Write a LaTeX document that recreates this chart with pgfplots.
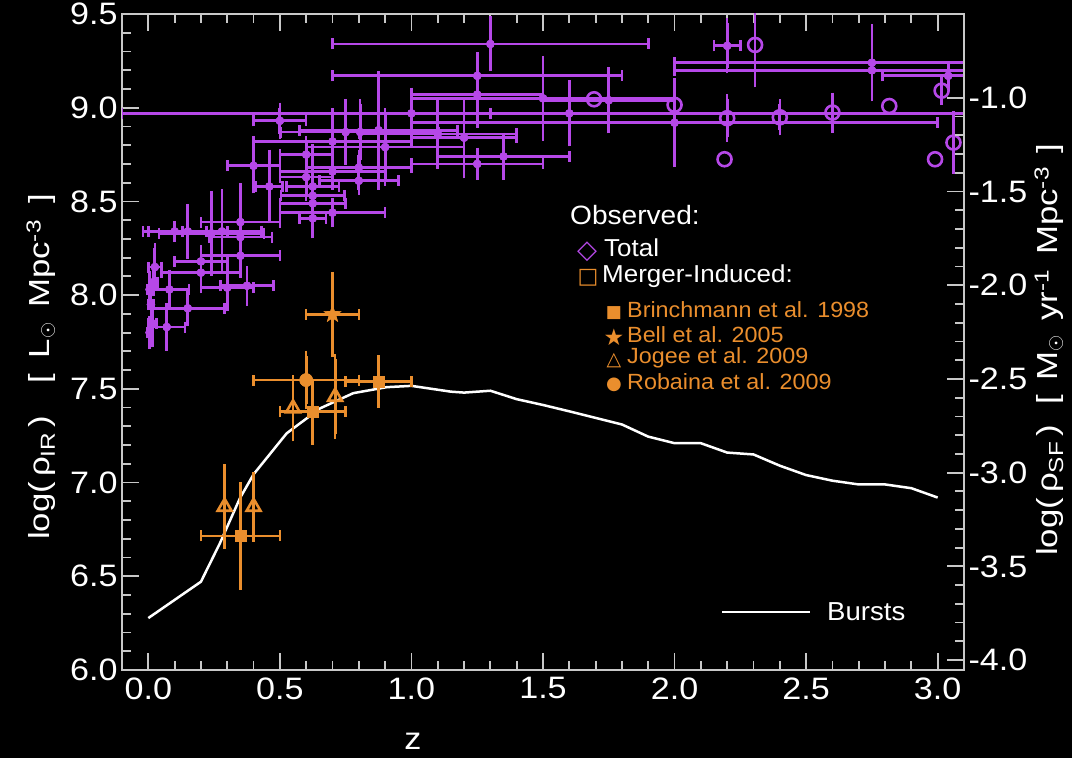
\documentclass[border=0pt]{standalone}
\usepackage{pgfplots}
\pgfplotsset{compat=1.18}
\usepackage{pgfplotstable}
\usepackage{fontspec}
\setmainfont{Liberation Sans}
\newfontfamily\dejavu{DejaVu Sans}
\newfontfamily\legfont[FakeStretch=1.06]{Liberation Sans}
\newfontfamily\labfont[FakeStretch=1.2]{Liberation Sans}
\newfontfamily\tickfont[FakeStretch=1.1]{Liberation Sans}
\definecolor{pur}{RGB}{182,72,232}
\definecolor{org}{RGB}{234,142,45}
\definecolor{axgray}{RGB}{200,200,200}

\pgfdeclareplotmark{fstar}{%
  \pgfpathmoveto{\pgfqpoint{0pt}{\pgfplotmarksize}}%
  \pgfpathlineto{\pgfqpoint{0.235\pgfplotmarksize}{0.324\pgfplotmarksize}}%
  \pgfpathlineto{\pgfqpoint{0.951\pgfplotmarksize}{0.309\pgfplotmarksize}}%
  \pgfpathlineto{\pgfqpoint{0.380\pgfplotmarksize}{-0.124\pgfplotmarksize}}%
  \pgfpathlineto{\pgfqpoint{0.588\pgfplotmarksize}{-0.809\pgfplotmarksize}}%
  \pgfpathlineto{\pgfqpoint{0pt}{-0.4\pgfplotmarksize}}%
  \pgfpathlineto{\pgfqpoint{-0.588\pgfplotmarksize}{-0.809\pgfplotmarksize}}%
  \pgfpathlineto{\pgfqpoint{-0.380\pgfplotmarksize}{-0.124\pgfplotmarksize}}%
  \pgfpathlineto{\pgfqpoint{-0.951\pgfplotmarksize}{0.309\pgfplotmarksize}}%
  \pgfpathlineto{\pgfqpoint{-0.235\pgfplotmarksize}{0.324\pgfplotmarksize}}%
  \pgfpathclose\pgfusepathqfill}

% Observed total: z, log rho_IR, x error, y error
\pgfplotstableread{
z y ex ey
0.005 7.80 0.010 0.06
0.015 7.85 0.015 0.10
0.010 7.95 0.010 0.08
0.005 8.03 0.010 0.07
0.020 8.07 0.015 0.05
0.025 8.15 0.025 0.10
0.070 7.83 0.070 0.10
0.080 8.03 0.075 0.08
0.150 7.93 0.140 0.07
0.100 8.34 0.120 0.03
0.150 8.34 0.150 0.12
0.200 8.18 0.100 0.06
0.200 8.12 0.150 0.05
0.240 8.33 0.200 0.20
0.280 8.34 0.150 0.20
0.350 8.39 0.150 0.18
0.350 8.31 0.120 0.10
0.350 8.21 0.150 0.07
0.300 8.04 0.100 0.10
0.375 8.05 0.100 0.08
0.500 8.93 0.100 0.07
0.400 8.69 0.100 0.12
0.460 8.58 0.050 0.17
0.600 8.75 0.100 0.07
0.600 8.63 0.100 0.10
0.625 8.58 0.100 0.20
0.625 8.53 0.120 0.05
0.625 8.49 0.125 0.05
0.625 8.41 0.050 0.08
0.700 8.44 0.200 0.05
0.700 8.82 0.300 0.10
0.700 8.66 0.200 0.07
0.800 8.68 0.200 0.07
0.800 8.61 0.150 0.05
0.750 8.87 0.250 0.15
0.805 8.87 0.300 0.15
0.875 8.88 0.300 0.29
0.900 8.79 0.300 0.18
1.000 8.97 0.300 0.11
1.100 8.86 0.300 0.16
1.200 8.84 0.200 0.19
1.250 8.70 0.250 0.06
1.350 8.74 0.250 0.10
1.250 9.17 0.550 0.10
1.250 9.07 0.250 0.15
1.300 9.34 0.600 0.12
1.500 9.05 0.500 0.20
1.600 8.97 1.700 0.15
1.750 9.04 0.250 0.15
2.000 8.92 1.000 0.21
2.200 9.33 0.050 0.12
2.750 9.24 0.750 0.18
2.750 9.20 0.750 0.05
3.040 9.17 0.250 0.05
}\totaldata

% Observed total, open circles with y errors
\pgfplotstableread{
z y ey
2.000 9.015 0.10
2.200 8.944 0.10
2.306 9.335 0.20
2.400 8.949 0.07
2.600 8.974 0.08
3.015 9.091 0.05
3.060 8.814 0.14
}\circerr

% Observed total, open circles without errors
\pgfplotstableread{
z y
1.694 9.045
2.190 8.725
2.816 9.009
2.990 8.725
}\circnoerr

% Merger-induced
\pgfplotstableread{
z y ex ey
0.350 6.715 0.150 0.26
0.625 7.378 0.125 0.15
0.875 7.538 0.125 0.114
}\brinch
\pgfplotstableread{
z y ex ey
0.700 7.898 0.100 0.20
}\bell
\pgfplotstableread{
z y ey
0.290 6.871 0.20
0.400 6.871 0.16
0.550 7.396 0.15
0.710 7.458 0.20
}\jogee
\pgfplotstableread{
z y ex ey
0.600 7.547 0.200 0.13
}\robaina

% Bursts model
\pgfplotstableread{
z y
0.000 6.277
0.200 6.471
0.272 6.676
0.348 6.916
0.400 7.044
0.526 7.263
0.653 7.396
0.779 7.477
0.906 7.509
1.000 7.516
1.150 7.485
1.200 7.480
1.300 7.490
1.400 7.445
1.500 7.414
1.600 7.380
1.700 7.345
1.800 7.310
1.900 7.245
2.000 7.210
2.100 7.210
2.200 7.160
2.300 7.150
2.400 7.090
2.500 7.040
2.600 7.010
2.700 6.990
2.800 6.990
2.900 6.970
3.000 6.920
}\bursts

\pgfplotsset{
  /pgfplots/error bars/errpy/.style={y dir=both, y explicit, error mark=-,
    error bar style={pur, line width=2.8pt},
    error mark options={pur, line width=2.6pt, mark size=5pt}},
  /pgfplots/error bars/errpx/.style={x dir=both, x explicit, error mark=|,
    error bar style={pur, line width=2.8pt},
    error mark options={pur, line width=2.6pt, mark size=5.5pt}},
  /pgfplots/error bars/erroy/.style={y dir=both, y explicit, error mark=-,
    error bar style={org, line width=2.8pt},
    error mark options={org, line width=2.6pt, mark size=5pt}},
  /pgfplots/error bars/errox/.style={x dir=both, x explicit, error mark=|,
    error bar style={org, line width=2.8pt},
    error mark options={org, line width=2.6pt, mark size=5.5pt}},
  ticklab/.style={font=\tickfont\fontsize{31}{31}\selectfont, text=white,
    /pgf/number format/assume math mode=true,
    /pgf/number format/fixed, /pgf/number format/fixed zerofill,
    /pgf/number format/precision=1},
}

\begin{document}
\begin{tikzpicture}
\fill[black] (0pt,0pt) rectangle (1072pt,758pt);
\begin{axis}[
  at={(122pt,88pt)}, anchor=south west,
  width=842pt, height=656pt, scale only axis,
  xmin=-0.1, xmax=3.1, ymin=6, ymax=9.5,
  axis line style={axgray, line width=2pt},
  every tick/.style={axgray, line width=1.8pt},
  tick align=inside,
  xtick={0,0.5,1,1.5,2,2.5,3},
  ytick={6,6.5,7,7.5,8,8.5,9,9.5},
  minor x tick num=4, minor y tick num=4,
  major tick length=17pt, minor tick length=9pt,
  xtick pos=both, ytick pos=left, xticklabel pos=lower,
  tick label style={ticklab},
  xticklabel style={yshift=-4pt},
  yticklabel style={xshift=-1pt},
]
% observed total: x bars, then y bars with markers
\addplot[pur, only marks, mark=*, mark size=4pt,
  error bars/.cd, errpx]
  table[x=z, y=y, x error=ex] {\totaldata};
\addplot[pur, only marks, mark=*, mark size=4pt,
  error bars/.cd, errpy]
  table[x=z, y=y, y error=ey] {\totaldata};
\addplot[pur, only marks, mark=o, mark size=7pt, mark options={line width=2.6pt},
  error bars/.cd, errpy]
  table[x=z, y=y, y error=ey] {\circerr};
\addplot[pur, only marks, mark=o, mark size=7pt, mark options={line width=2.6pt}]
  table[x=z, y=y] {\circnoerr};
\addplot[white, line width=2.5pt] table[x=z, y=y] {\bursts};
% merger-induced
\addplot[org, only marks, mark=square*, mark size=5.5pt,
  error bars/.cd, errox]
  table[x=z, y=y, x error=ex] {\brinch};
\addplot[org, only marks, mark=square*, mark size=5.5pt,
  error bars/.cd, erroy]
  table[x=z, y=y, y error=ey] {\brinch};
\addplot[org, only marks, mark=fstar, mark size=9.5pt,
  error bars/.cd, errox]
  table[x=z, y=y, x error=ex] {\bell};
\addplot[org, only marks, mark=fstar, mark size=9.5pt,
  error bars/.cd, erroy]
  table[x=z, y=y, y error=ey] {\bell};
\addplot[org, only marks, mark=triangle, mark size=8pt, mark options={line width=2.6pt},
  error bars/.cd, erroy]
  table[x=z, y=y, y error=ey] {\jogee};
\addplot[org, only marks, mark=*, mark size=6.5pt,
  error bars/.cd, errox]
  table[x=z, y=y, x error=ex] {\robaina};
\addplot[org, only marks, mark=*, mark size=6.5pt,
  error bars/.cd, erroy]
  table[x=z, y=y, y error=ey] {\robaina};
\end{axis}
\begin{axis}[
  at={(122pt,88pt)}, anchor=south west,
  width=842pt, height=656pt, scale only axis,
  xmin=-0.1, xmax=3.1, ymin=-4.053, ymax=-0.553,
  axis x line=none, axis y line*=right,
  axis line style={axgray, line width=2pt, -},
  every tick/.style={axgray, line width=1.8pt},
  tick align=inside,
  ytick={-4,-3.5,-3,-2.5,-2,-1.5,-1},
  minor y tick num=4,
  major tick length=17pt, minor tick length=9pt,
  tick label style={ticklab},
  yticklabel style={xshift=1pt},
]
\addplot[draw=none] coordinates {(0,-2)};
\end{axis}
% axis titles
\node[rotate=90, text=white, font=\labfont\fontsize{29}{29}\selectfont] at (41pt,391pt)
  {log(\,ρ\textsubscript{IR}\,)\hspace{1.1em}[\hspace{0.55em}L$_\odot$\hspace{0.5em}Mpc\textsuperscript{-3}\hspace{0.55em}]};
\node[rotate=90, text=white, font=\labfont\fontsize{29}{29}\selectfont] at (1049pt,408pt)
  {log(\,ρ\textsubscript{SF}\,)\hspace{0.7em}[\hspace{0.5em}M$_\odot$\hspace{0.5em}yr\textsuperscript{-1}\hspace{0.5em}Mpc\textsuperscript{-3}\hspace{0.45em}]};
\node[text=white, font=\tickfont\fontsize{31}{31}\selectfont] at (413pt,17pt) {z};
% legend
\node[anchor=west, text=white, font=\legfont\fontsize{26.5}{26.5}\selectfont, inner sep=0pt] at (570pt,543pt) {Observed:};
\node[text=pur, font=\dejavu\bfseries\fontsize{26}{26}\selectfont, inner sep=0pt] at (587pt,506pt) {◇};
\node[anchor=west, text=white, font=\legfont\fontsize{24.5}{24.5}\selectfont, inner sep=0pt] at (604pt,510pt) {Total};
\node[text=org, font=\dejavu\bfseries\fontsize{22}{22}\selectfont, inner sep=0pt] at (588pt,480pt) {□};
\node[anchor=west, text=white, font=\legfont\fontsize{24.5}{24.5}\selectfont, inner sep=0pt] at (602pt,482pt) {Merger-Induced:};
\node[text=org, font=\dejavu\fontsize{17}{17}\selectfont, inner sep=0pt] at (614pt,445pt) {■};
\node[anchor=west, text=org, font=\legfont\fontsize{22}{22}\selectfont, inner sep=0pt] at (627pt,448pt) {Brinchmann et al. 1998};
\node[text=org, font=\dejavu\fontsize{23}{23}\selectfont, inner sep=0pt] at (614pt,421pt) {★};
\node[anchor=west, text=org, font=\legfont\fontsize{22}{22}\selectfont, inner sep=0pt] at (627pt,423pt) {Bell et al. 2005};
\node[text=org, font=\dejavu\bfseries\fontsize{19}{19}\selectfont, inner sep=0pt] at (614pt,397pt) {△};
\node[anchor=west, text=org, font=\legfont\fontsize{22}{22}\selectfont, inner sep=0pt] at (627pt,400pt) {Jogee et al. 2009};
\node[text=org, font=\dejavu\fontsize{18}{18}\selectfont, inner sep=0pt] at (614pt,373pt) {●};
\node[anchor=west, text=org, font=\legfont\fontsize{22}{22}\selectfont, inner sep=0pt] at (627pt,376pt) {Robaina et al. 2009};
\draw[white, line width=2.5pt] (722pt,146pt) -- (810pt,146pt);
\node[anchor=west, text=white, font=\legfont\fontsize{26}{26}\selectfont, inner sep=0pt] at (827pt,146pt) {Bursts};
\pgfresetboundingbox
\path (0pt,0pt) rectangle (1072pt,758pt);
\end{tikzpicture}
\end{document}
